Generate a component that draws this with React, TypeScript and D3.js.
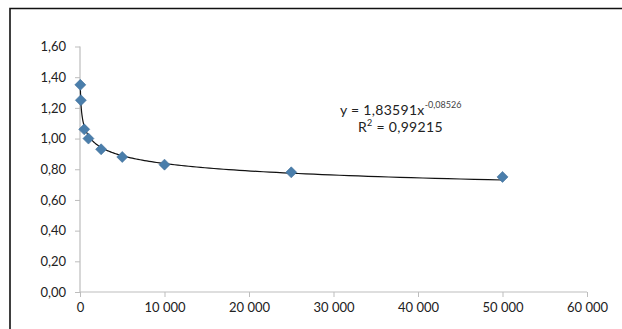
import React, { useRef, useEffect } from 'react'
import * as d3 from 'd3'

// measured points
const xValues = [35, 100, 500, 1000, 2500, 5000, 10000, 25000, 50000]
const yValues = [1.35, 1.25, 1.06, 1.0, 0.93, 0.88, 0.83, 0.78, 0.75]

const xTicks = [0, 10000, 20000, 30000, 40000, 50000, 60000]
const yTicks = [0, 0.2, 0.4, 0.6, 0.8, 1.0, 1.2, 1.4, 1.6]

// power trendline printed on the chart
const coefA = 1.83591
const coefB = -0.08526
const eqText = 'y = 1,83591x'
const eqExp = '-0,08526'
const r2Text = '0,99215'

const width = 622
const height = 329

export default function App() {
    const visEl = useRef<HTMLDivElement>(null)

    useEffect(() => {
        const root = d3.select(visEl.current)
        root.selectAll('*').remove()
        const svg = root.append('svg')
            .attr('width', width)
            .attr('height', height)
            .style('display', 'block')
            .style('font-family', 'Lato, "Open Sans", sans-serif')

        svg.append('rect').attr('width', width).attr('height', height).attr('fill', '#fff')

        // outer frame (only top and left edges visible)
        svg.append('path')
            .attr('d', `M10,${height} L10,8.5 L${width},8.5`)
            .attr('fill', 'none')
            .attr('stroke', '#111')
            .attr('stroke-width', 1.6)

        const xScale = d3.scaleLinear().domain([0, 60000]).range([80, 587])
        const yScale = d3.scaleLinear().domain([0, 1.6]).range([292, 46.5])

        const fmtX = (d: number) => d === 0 ? '0' : d3.format(',')(d).replace(/,/g, ' ')
        const fmtY = (d: number) => d.toFixed(2).replace('.', ',')

        const xAxis = d3.axisBottom(xScale).tickValues(xTicks).tickSize(5).tickPadding(6).tickFormat(fmtX as any)
        const yAxis = d3.axisLeft(yScale).tickValues(yTicks).tickSize(5).tickPadding(9).tickFormat(fmtY as any)

        const xAxisG = svg.append('g').attr('transform', `translate(0,${yScale(0)})`).call(xAxis)
        const yAxisG = svg.append('g').attr('transform', `translate(${xScale(0)},0)`).call(yAxis)

        for (const g of [xAxisG, yAxisG]) {
            g.select('.domain').attr('stroke', '#bdbdbd').attr('stroke-width', 1.2)
            g.selectAll('.tick line').attr('stroke', '#bdbdbd')
            g.selectAll('.tick text')
                .attr('fill', '#222')
                .attr('font-size', 13)
                .attr('font-family', 'Lato, "Open Sans", sans-serif')
                .style('white-space', 'pre')
        }
        // remove outer ticks of domain path
        xAxisG.select('.domain').attr('d', `M${xScale(0)},0H${xScale(60000)}`)
        yAxisG.select('.domain').attr('d', `M0,${yScale(1.6)}V${yScale(0)}`)

        // trendline
        const x0 = xValues[0] * 1.4
        const lineX = d3.range(0, 200).map(i => Math.exp(Math.log(x0) + (Math.log(50000) - Math.log(x0)) * i / 199))
        const trend = d3.line<number>()
            .x(d => xScale(d))
            .y(d => yScale(coefA * Math.pow(d, coefB)))
        svg.append('path')
            .attr('d', trend(lineX))
            .attr('fill', 'none')
            .attr('stroke', '#111')
            .attr('stroke-width', 1.2)

        // diamond markers
        const data = xValues.map((x, i) => ({ x, y: yValues[i] }))
        svg.append('g').selectAll('path')
            .data(data)
            .join('path')
            .attr('transform', d => `translate(${xScale(d.x)},${yScale(d.y)})`)
            .attr('d', 'M0,-5.5L5.5,0L0,5.5L-5.5,0Z')
            .attr('fill', '#4a7eab')
            .attr('stroke', '#3f6f99')
            .attr('stroke-width', 0.6)

        // equation label
        const eq = svg.append('text')
            .attr('x', 340)
            .attr('y', 115)
            .attr('font-size', 14)
            .attr('letter-spacing', 0.3)
            .attr('fill', '#222')
        eq.append('tspan').text(eqText)
        eq.append('tspan').attr('dy', -7).attr('font-size', 9).attr('letter-spacing', 0).attr('fill', '#444').text(eqExp)

        const r2 = svg.append('text')
            .attr('x', 358)
            .attr('y', 132)
            .attr('font-size', 14)
            .attr('letter-spacing', 0.3)
            .attr('fill', '#222')
        r2.append('tspan').text('R')
        r2.append('tspan').attr('dy', -6).attr('font-size', 9).text('2')
        r2.append('tspan').attr('dy', 6).text(' = ' + r2Text)
    }, [])

    return (
        <div style={{ position: 'absolute', left: 0, top: 0 }}>
            <div ref={visEl}></div>
        </div>
    )
}
